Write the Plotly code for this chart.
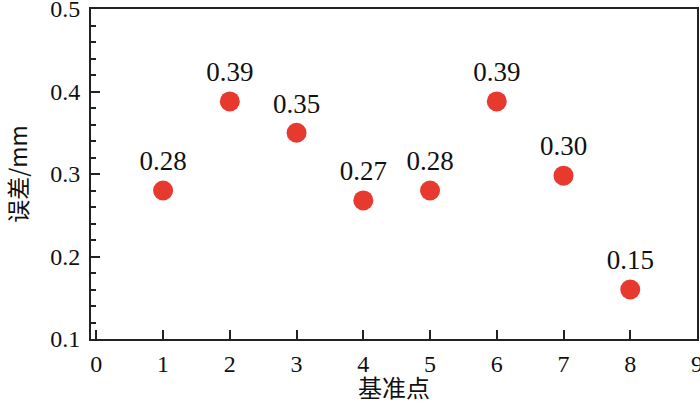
import plotly.graph_objects as go

points = [1, 2, 3, 4, 5, 6, 7, 8]
errors = [0.28, 0.388, 0.35, 0.268, 0.28, 0.388, 0.298, 0.16]
labels = ["0.28", "0.39", "0.35", "0.27", "0.28", "0.39", "0.30", "0.15"]
x_ticks = [0, 1, 2, 3, 4, 5, 6, 7, 8, 9]
y_ticks = [0.1, 0.2, 0.3, 0.4, 0.5]

font = "Liberation Serif"
cjk = "Noto Sans CJK SC"

fig = go.Figure()
fig.add_trace(go.Scatter(
    x=points, y=errors, mode="markers+text",
    text=labels, textposition="top center",
    textfont=dict(family=font, size=27, color="#111"),
    marker=dict(size=20, color="#e8392f"),
    showlegend=False, cliponaxis=False,
))

fig.update_layout(
    width=700, height=404,
    margin=dict(l=91, r=3, t=9, b=65),
    paper_bgcolor="white", plot_bgcolor="white",
    font=dict(family=font, size=24, color="#111"),
    xaxis=dict(
        range=[-0.08, 9.0], tickvals=x_ticks, ticktext=[str(v) for v in x_ticks],
        ticks="inside", ticklen=9, tickwidth=2, tickcolor="#222",
        showline=True, linecolor="#222", linewidth=2, mirror=True,
        showgrid=False, zeroline=False, automargin=False,
        ticklabeloverflow="allow", ticklabelstandoff=2,
        tickfont=dict(family=font, size=24),
        title=dict(text="基准点", font=dict(family=cjk, size=24), standoff=6),
    ),
    yaxis=dict(
        range=[0.1, 0.5], tickvals=y_ticks, ticktext=["0.1", "0.2", "0.3", "0.4", "0.5"],
        ticks="inside", ticklen=9, tickwidth=2, tickcolor="#222",
        minor=dict(dtick=0.02, ticks="inside", ticklen=5, tickwidth=2, tickcolor="#222", showgrid=False),
        showline=True, linecolor="#222", linewidth=2, mirror=True,
        showgrid=False, zeroline=False, automargin=False,
        ticklabeloverflow="allow", ticklabelstandoff=4,
        tickfont=dict(family=font, size=24),
        title=dict(text="误差/mm", font=dict(family=cjk, size=23), standoff=20),
    ),
)

fig.write_html(
    "out.html",
    config={"displayModeBar": False},
    post_script="document.body.style.margin='0';document.body.style.overflow='hidden';",
)
